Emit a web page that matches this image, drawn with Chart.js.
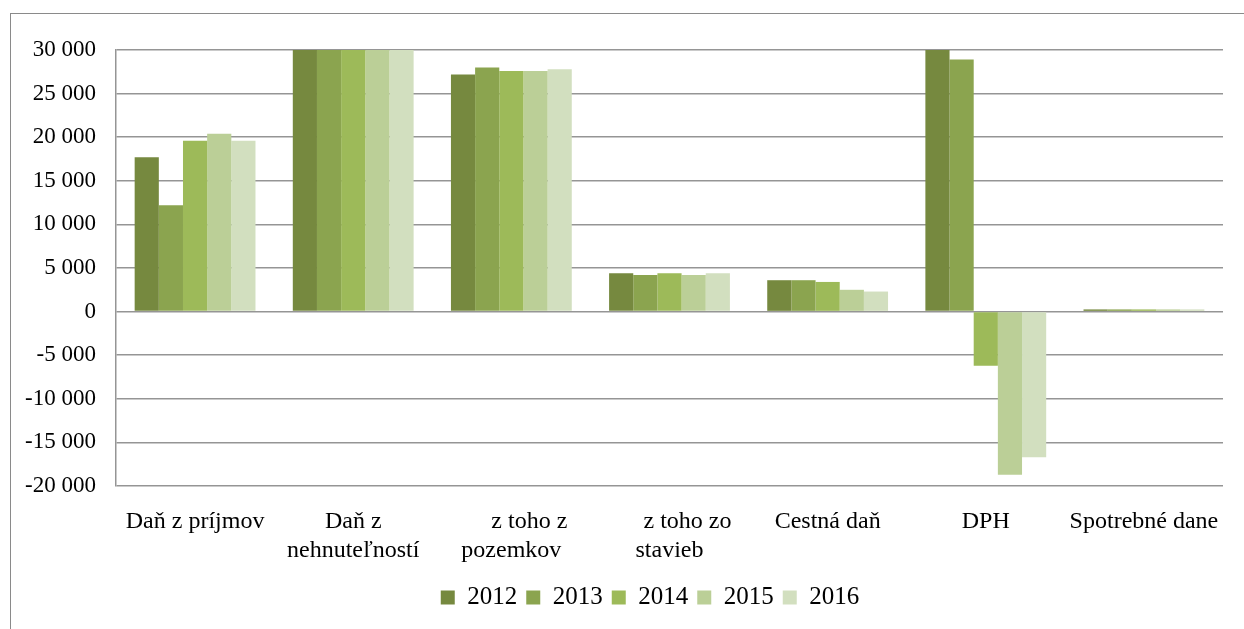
<!DOCTYPE html>
<html lang="sk">
<head>
  <meta charset="UTF-8">
  <title>Daňové príjmy</title>
  <style>
    html, body { margin: 0; padding: 0; background: #fff; overflow: hidden; }
    .frame {
      position: absolute; left: 10px; top: 13px;
      width: 1268px; height: 640px;
      border-left: 1px solid #8a8a8a; border-top: 1px solid #8a8a8a;
    }
  </style>
</head>
<body>
  <div class="frame">
    <canvas id="chart" width="1268" height="640"></canvas>
  </div>

  <script src="https://cdn.jsdelivr.net/npm/chart.js"></script>
  <script>
    // Kategórie (úvodné medzery posúvajú prvý riadok ako v origináli)
    const categories = [
      'Daň z príjmov',
      ['Daň z', 'nehnuteľností'],
      ['      z toho z', 'pozemkov'],
      ['      z toho zo', 'stavieb'],
      'Cestná daň',
      'DPH',
      'Spotrebné dane'
    ];
    const years = ['2012', '2013', '2014', '2015', '2016'];

    const values2012 = [17700, 30000, 27200, 4400, 3600, 30000, 250];
    const values2013 = [12200, 30000, 28000, 4200, 3600, 28900, 250];
    const values2014 = [19600, 30000, 27600, 4400, 3400, -6200, 250];
    const values2015 = [20400, 30000, 27600, 4200, 2500, -18700, 250];
    const values2016 = [19600, 30000, 27800, 4400, 2300, -16700, 250];

    const yTicks = [-20000, -15000, -10000, -5000, 0, 5000, 10000, 15000, 20000, 25000, 30000];

    const colors = ['#76893f', '#8ba44f', '#9dba59', '#bbcf97', '#d2dfbf'];
    const series = [values2012, values2013, values2014, values2015, values2016];

    const serif = '"Liberation Serif", "Times New Roman", serif';
    const gridColor = '#959595';

    function formatNum(v) {
      const s = String(Math.abs(v)).replace(/\B(?=(\d{3})+(?!\d))/g, ' ');
      return (v < 0 ? '-' : '') + s;
    }

    // legenda je v origináli v strede celého rámu, nie plochy grafu
    const shiftLegend = {
      id: 'shiftLegend',
      afterLayout(chart) {
        chart.legend.left += 33;
        chart.legend.right += 33;
      }
    };

    const ctx = document.getElementById('chart').getContext('2d');

    new Chart(ctx, {
      type: 'bar',
      data: {
        labels: categories,
        datasets: years.map((y, i) => ({
          label: y,
          data: series[i],
          backgroundColor: colors[i],
          borderWidth: 0,
          categoryPercentage: 0.764,
          barPercentage: 1
        }))
      },
      options: {
        responsive: false,
        animation: false,
        layout: { padding: { left: 0, right: 56, top: 36, bottom: 34 } },
        plugins: {
          tooltip: { enabled: false },
          legend: {
            position: 'bottom',
            labels: {
              boxWidth: 14,
              boxHeight: 14,
              padding: 9,
              color: '#000',
              font: { family: serif, size: 25 }
            }
          }
        },
        scales: {
          x: {
            grid: { display: false },
            border: { display: false },
            ticks: {
              color: '#000',
              padding: 13,
              maxRotation: 0,
              autoSkip: false,
              font: { family: serif, size: 24, lineHeight: 1.22 }
            },
            afterFit: (scale) => { scale.height = 90; }
          },
          y: {
            min: -20000,
            max: 30000,
            afterBuildTicks: (scale) => { scale.ticks = yTicks.map(v => ({ value: v })); },
            grid: { color: gridColor, lineWidth: 1.5, drawTicks: false },
            border: { display: true, color: gridColor, width: 1.5 },
            ticks: {
              color: '#000',
              padding: 20,
              font: { family: serif, size: 23 },
              callback: (v) => formatNum(v)
            },
            afterFit: (scale) => { scale.width = 105; }
          }
        }
      },
      plugins: [shiftLegend]
    });
  </script>
</body>
</html>
